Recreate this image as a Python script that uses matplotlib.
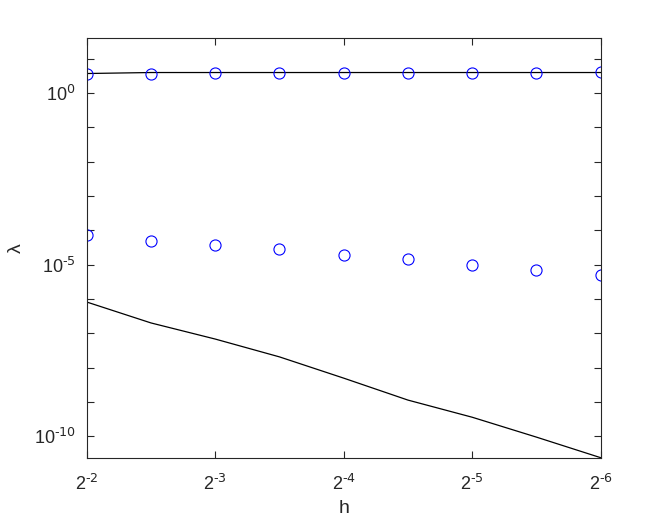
import numpy as np
import matplotlib
matplotlib.use("Agg")
import matplotlib.pyplot as plt
from matplotlib.ticker import FixedLocator, FuncFormatter, NullLocator

plt.rcParams['font.family'] = ['Liberation Sans', 'DejaVu Sans']
plt.rcParams['mathtext.default'] = 'regular'

# h = 2^-2 ... 2^-6 in half steps
h_exp = [-2, -2.5, -3, -3.5, -4, -4.5, -5, -5.5, -6]
# (log10 values)
top_circles = [0.563, 0.573, 0.592, 0.592, 0.602, 0.602, 0.602, 0.602, 0.612]
top_line = [0.573, 0.602, 0.602, 0.602, 0.602, 0.602, 0.602, 0.602, 0.602]
mid_circles = [-4.13, -4.30, -4.43, -4.55, -4.71, -4.85, -5.00, -5.15, -5.29]
bottom_line = [-6.09, -6.70, -7.17, -7.69, -8.31, -8.95, -9.45, -10.03, -10.63]

h = 2.0 ** np.array(h_exp)

fig = plt.figure(figsize=(6.64, 5.25), dpi=100)
ax = fig.add_axes([86.7 / 664, 1 - 457.7 / 525, (600.7 - 86.7) / 664, (457.7 - 38.3) / 525])

ax.plot(h, 10.0 ** np.array(top_line), color='black', lw=0.9)
ax.plot(h, 10.0 ** np.array(bottom_line), color='black', lw=0.9)
ax.plot(h, 10.0 ** np.array(top_circles), 'o', mfc='none', mec='blue', ms=8, mew=0.8)
ax.plot(h, 10.0 ** np.array(mid_circles), 'o', mfc='none', mec='blue', ms=8, mew=0.8)

ax.set_xscale('log', base=2)
ax.set_yscale('log')
ax.set_xlim(2.0 ** -2, 2.0 ** -6)
ax.set_ylim(10 ** -10.63, 10 ** 1.60)


def xfmt(v, p):
    return r'$2^{\text{%d}}$' % round(np.log2(v))


def yfmt(v, p):
    e = round(np.log10(v))
    if e % 5 != 0:
        return ''
    return r'$10^{\text{%d}}$' % e


ax.xaxis.set_major_locator(FixedLocator(2.0 ** np.arange(-2, -7, -1)))
ax.xaxis.set_major_formatter(FuncFormatter(xfmt))
ax.xaxis.set_minor_locator(NullLocator())
ax.yaxis.set_major_locator(FixedLocator(10.0 ** np.arange(-10, 2)))
ax.yaxis.set_major_formatter(FuncFormatter(yfmt))
ax.yaxis.set_minor_locator(NullLocator())

ax.tick_params(which='both', direction='in', top=True, right=True, length=5,
               width=0.8, color='#262626', labelcolor='#262626', labelsize=13)
ax.tick_params(axis='x', pad=12)
ax.tick_params(axis='y', pad=8)
for s in ax.spines.values():
    s.set_color('#262626')
    s.set_linewidth(0.8)

ax.set_xlabel('h', fontsize=14, color='#262626')
ax.set_ylabel('λ', fontsize=14, color='#262626')
ax.yaxis.set_label_coords(-0.12, 0.5)

fig.savefig('out.png', dpi=100)
